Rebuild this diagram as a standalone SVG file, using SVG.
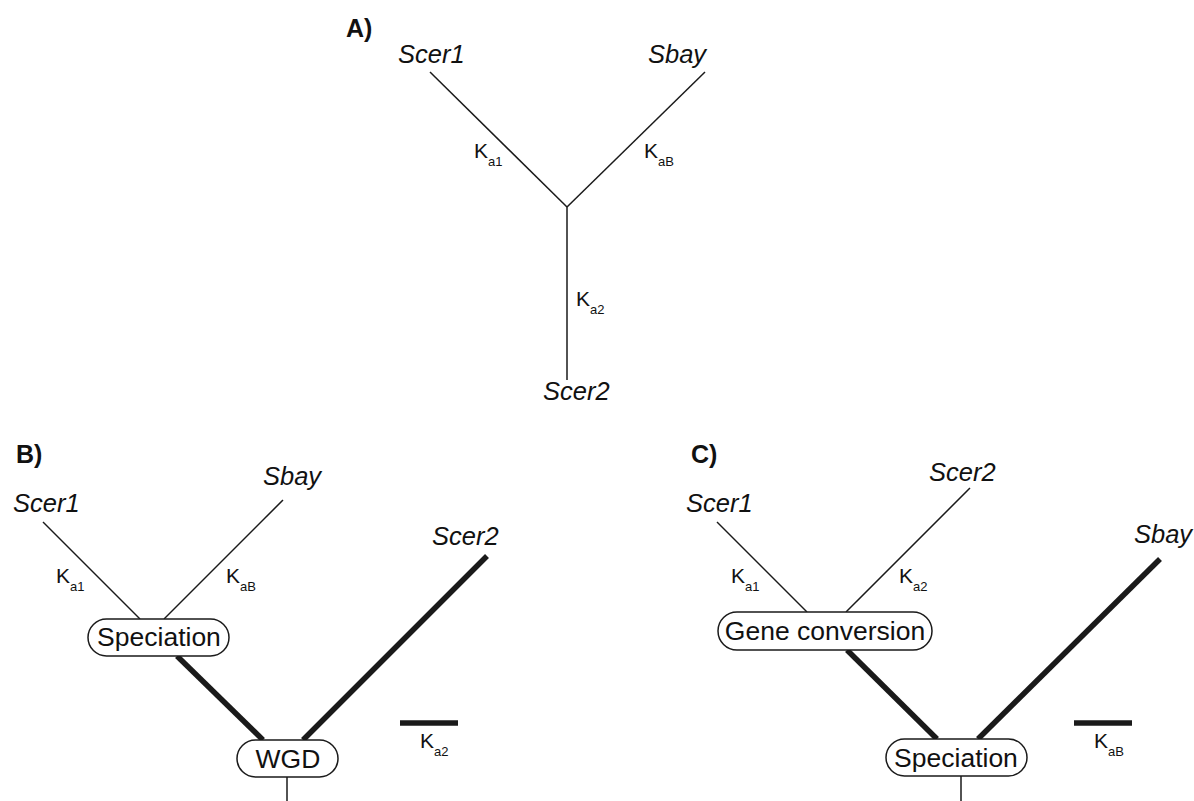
<svg xmlns="http://www.w3.org/2000/svg" width="1194" height="801" viewBox="0 0 1194 801">
<style>
.t{font-family:"Liberation Sans",Arial,sans-serif;fill:#111}
.sp{font-style:italic;font-size:25.5px}
.pl{font-weight:bold;font-size:25px}
.k{font-size:21px}
.ks{font-size:13px}
.bx{font-size:26.5px;text-anchor:middle}
.thin{stroke:#1a1a1a;stroke-width:1.5;fill:none}
.thick{stroke:#1a1a1a;stroke-width:5.5;fill:none}
.node{fill:#fff;stroke:#1a1a1a;stroke-width:1.5}
</style>
<rect width="1194" height="801" fill="#fff"/>
<g id="connectors">
<line class="thin" x1="430" y1="72" x2="567" y2="207"/>
<line class="thin" x1="705" y1="72" x2="567" y2="207"/>
<line class="thin" x1="567" y1="207" x2="567" y2="380"/>
<line class="thin" x1="43" y1="522" x2="140" y2="619"/>
<line class="thin" x1="283" y1="500" x2="164" y2="619"/>
<line class="thick" x1="177" y1="656" x2="263" y2="740"/>
<line class="thick" x1="303" y1="740" x2="487" y2="556"/>
<line class="thin" x1="287" y1="777" x2="287" y2="801"/>
<line class="thick" x1="400" y1="723" x2="458" y2="723"/>
<line class="thin" x1="717" y1="522" x2="807" y2="612"/>
<line class="thin" x1="970" y1="488" x2="846" y2="612"/>
<line class="thick" x1="847" y1="650" x2="937" y2="739"/>
<line class="thick" x1="1160" y1="559" x2="978" y2="739"/>
<line class="thin" x1="961" y1="776" x2="961" y2="801"/>
<line class="thick" x1="1074" y1="723" x2="1132" y2="723"/>
</g>
<g id="panelA">
<text class="t pl" x="346" y="37">A)</text>
<text class="t sp" x="398" y="63">Scer1</text>
<text class="t sp" x="648" y="63">Sbay</text>
<text class="t sp" x="543" y="400">Scer2</text>
<text class="t k" x="474" y="158">K<tspan class="ks" dy="8">a1</tspan></text>
<text class="t k" x="644" y="158">K<tspan class="ks" dy="8">aB</tspan></text>
<text class="t k" x="576" y="306">K<tspan class="ks" dy="8">a2</tspan></text>
</g>
<g id="panelB">
<text class="t pl" x="16" y="463">B)</text>
<text class="t sp" x="13" y="512">Scer1</text>
<text class="t sp" x="263" y="485">Sbay</text>
<text class="t sp" x="432" y="545">Scer2</text>
<text class="t k" x="56" y="583">K<tspan class="ks" dy="8">a1</tspan></text>
<text class="t k" x="226" y="583">K<tspan class="ks" dy="8">aB</tspan></text>
<text class="t k" x="420" y="748">K<tspan class="ks" dy="8">a2</tspan></text>
</g>
<g id="node-speciation-B">
<rect class="node" x="88" y="619" width="141" height="37" rx="18.5"/>
<text class="t bx" x="159" y="646">Speciation</text>
</g>
<g id="node-wgd">
<rect class="node" x="237" y="740" width="101" height="37" rx="18.5"/>
<text class="t bx" x="288" y="768">WGD</text>
</g>
<g id="panelC">
<text class="t pl" x="691" y="463">C)</text>
<text class="t sp" x="686" y="512">Scer1</text>
<text class="t sp" x="929" y="481">Scer2</text>
<text class="t sp" x="1134" y="543">Sbay</text>
<text class="t k" x="731" y="583">K<tspan class="ks" dy="8">a1</tspan></text>
<text class="t k" x="899" y="583">K<tspan class="ks" dy="8">a2</tspan></text>
<text class="t k" x="1094" y="748">K<tspan class="ks" dy="8">aB</tspan></text>
</g>
<g id="node-geneconversion">
<rect class="node" x="718" y="612" width="214" height="38" rx="19"/>
<text class="t bx" x="825" y="640">Gene conversion</text>
</g>
<g id="node-speciation-C">
<rect class="node" x="886" y="739" width="141" height="37" rx="18.5"/>
<text class="t bx" x="956" y="767">Speciation</text>
</g>
</svg>
